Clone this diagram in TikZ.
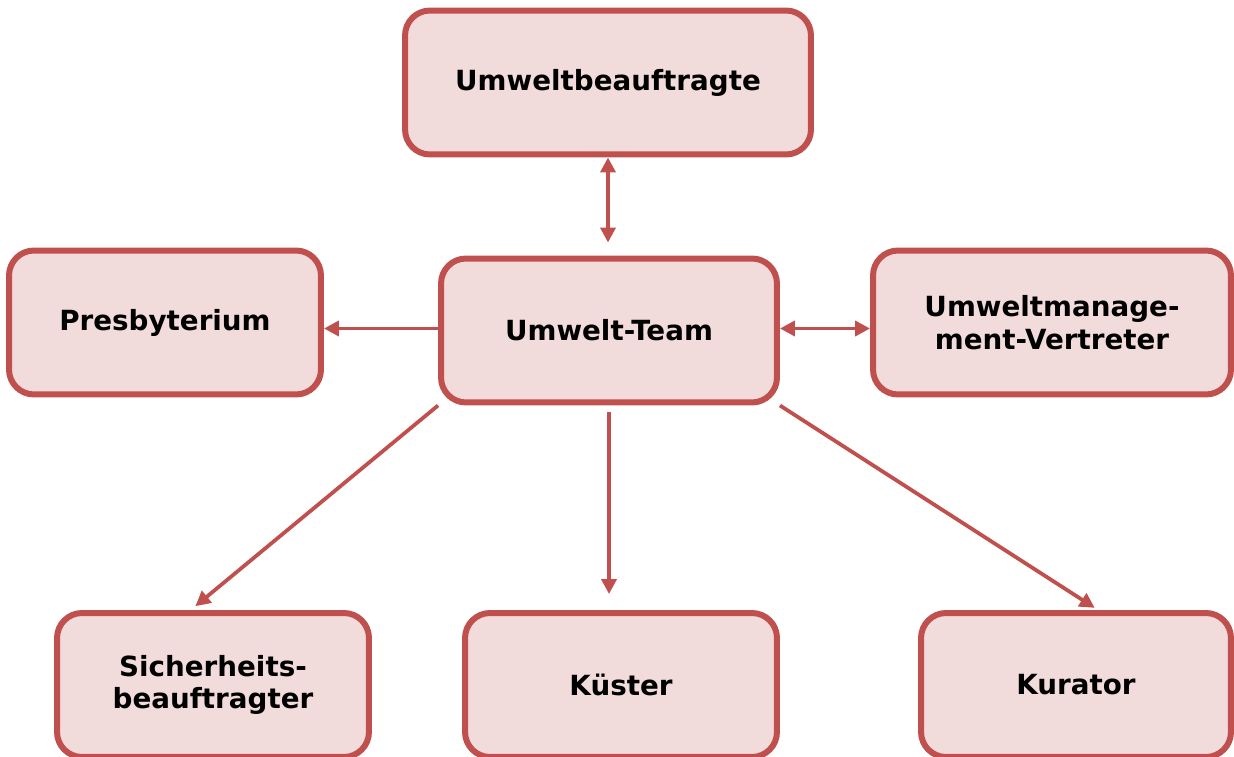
\documentclass[tikz,border=0pt]{standalone}
\usepackage{fontspec}
\setmainfont{DejaVu Sans}
\usetikzlibrary{arrows.meta,calc,backgrounds}

\definecolor{randrot}{HTML}{C0504D}
\definecolor{fuellrot}{HTML}{F2DCDB}

\tikzset{
  kasten/.style={draw=randrot, fill=fuellrot, line width=0.12cm, rounded corners=0.5cm,
    minimum height=2.88cm, align=center, font=\fontsize{15.8}{18.5}\selectfont\bfseries},
  spitze/.tip={Triangle[length=0.3cm,width=0.3cm]},
  pfeil/.style={draw=randrot, line width=0.075cm, -spitze},
  doppelpfeil/.style={draw=randrot, line width=0.075cm, spitze-spitze}
}

\begin{document}
\begin{tikzpicture}[x=0.02cm, y=-0.02cm]
    \useasboundingbox (0,0) rectangle (1234,757);

    % Kaesten
    \node[kasten, minimum width=8.12cm] (ub) at (608,82.5) {Umweltbeauftragte};
    \node[kasten, minimum width=6.24cm] (presb) at (165,322.5) {Presbyterium};
    \node[kasten, minimum width=6.72cm] (team) at (609,330.5) {Umwelt-Team};
    \node[kasten, minimum width=7.16cm] (umv) at (1052,322.5) {Umweltmanage-\\ment-Vertreter};
    \node[kasten, minimum width=6.24cm] (sich) at (213,685) {Sicherheits-\\beauftragter};
    \node[kasten, minimum width=6.24cm] (kuester) at (621,685) {Küster};
    \node[kasten, minimum width=6.2cm] (kurator) at (1076,685) {Kurator};

    % Verbindungen
    \begin{scope}[on background layer]
        \draw[doppelpfeil, shorten >=0.26cm] (ub.south) -- (ub.south |- team.north);
        \draw[pfeil] ([yshift=0.04cm]team.west) -- ([yshift=0.04cm]team.west -| presb.east);
        \draw[doppelpfeil] ([yshift=0.04cm]team.east) -- ([yshift=0.04cm]team.east -| umv.west);
        \draw[pfeil, shorten <=0.14cm, shorten >=0.32cm] (team.south) -- (team.south |- kuester.north);
        \draw[pfeil, shorten >=0.12cm] (team.south west) -- ($(sich.north west)!0.43!(sich.north east)$);
        \draw[pfeil, shorten >=0.08cm] (team.south east) -- ($(kurator.north west)!0.57!(kurator.north east)$);
    \end{scope}
\end{tikzpicture}
\end{document}
